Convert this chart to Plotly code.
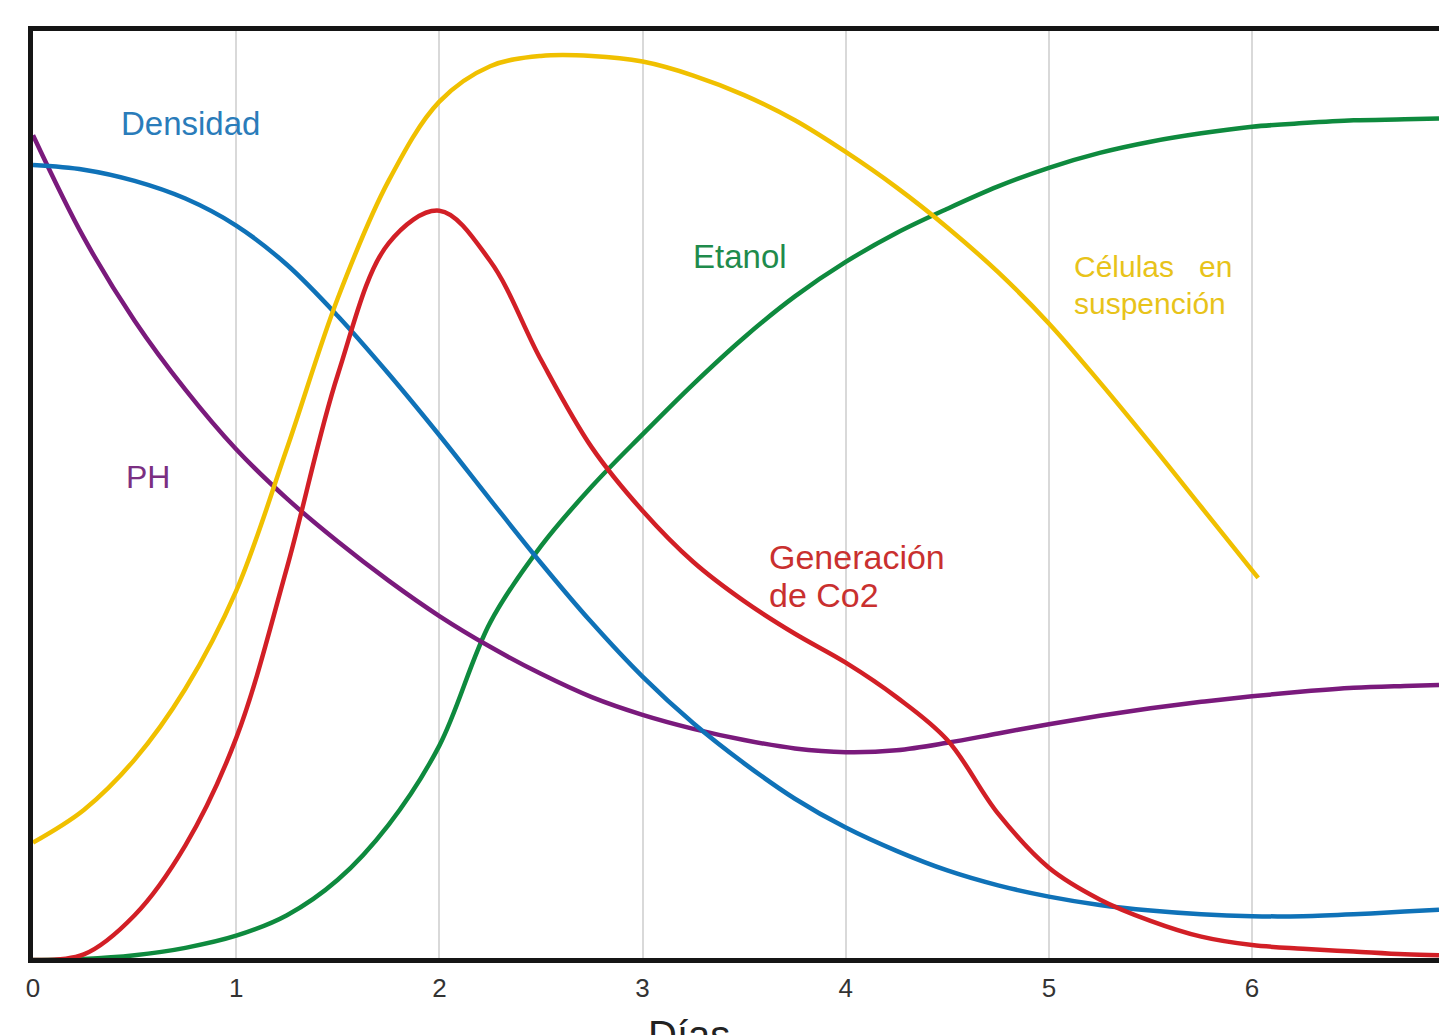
import plotly.graph_objects as go

# ---- data (x in días, y on a relative 0-100 scale) ----
days = [0, 0.25, 0.5, 0.75, 1.0, 1.25, 1.5, 1.75, 2.0, 2.25, 2.5, 2.75, 3.0, 3.25, 3.5,
        3.75, 4.0, 4.25, 4.5, 4.75, 5.0, 5.25, 5.5, 5.75, 6.0, 6.25, 6.5, 6.75, 6.92]

densidad = [85.3, 84.8, 83.6, 81.7, 78.8, 74.6, 69.1, 62.9, 56.3, 49.4, 42.6, 36.2, 30.4, 25.4, 21.1,
            17.3, 14.2, 11.7, 9.6, 8.0, 6.8, 5.9, 5.3, 4.9, 4.7, 4.7, 4.9, 5.2, 5.4]

ph = [88.5, 77.5, 68.6, 61.2, 54.8, 49.5, 44.9, 40.7, 36.9, 33.6, 30.7, 28.2, 26.3, 24.8, 23.6,
      22.7, 22.3, 22.5, 23.3, 24.3, 25.3, 26.2, 27.0, 27.7, 28.3, 28.8, 29.2, 29.4, 29.5]

cel_days = [0, 0.25, 0.5, 0.75, 1.0, 1.25, 1.5, 1.75, 2.0, 2.25, 2.5, 2.75, 3.0, 3.25, 3.5,
            3.75, 4.0, 4.25, 4.5, 4.75, 5.0, 5.25, 5.5, 5.75, 6.0, 6.03]
celulas = [12.6, 16.1, 21.5, 29.1, 39.6, 54.9, 71.0, 83.6, 92.1, 95.9, 97.0, 97.0, 96.4, 94.9, 92.8,
           90.1, 86.7, 82.9, 78.6, 73.8, 68.3, 62.0, 55.4, 48.6, 41.8, 41.0]

co2 = [0, 0.6, 4.8, 12.3, 23.8, 42.1, 62.8, 76.9, 80.4, 75.0, 64.4, 55.0, 48.2, 42.7, 38.5,
       35.0, 31.9, 28.2, 23.6, 15.7, 9.9, 6.5, 4.2, 2.5, 1.6, 1.2, 0.9, 0.6, 0.5]

etanol = [0, 0.1, 0.5, 1.3, 2.6, 4.8, 8.6, 14.5, 23.0, 36.2, 44.4, 50.8, 56.4, 61.8, 66.8,
          71.2, 74.9, 78.0, 80.6, 83.0, 85.0, 86.6, 87.8, 88.7, 89.4, 89.8, 90.1, 90.2, 90.3]

tick_vals = [0, 1, 2, 3, 4, 5, 6]
tick_text = ["0", "1", "2", "3", "4", "5", "6"]

FONT = "Liberation Sans, Arial, Helvetica, sans-serif"

series = [
    (days, etanol, "#0e8a3e"),
    (days, ph, "#7a1a7c"),
    (days, densidad, "#0f72b8"),
    (cel_days, celulas, "#f0c000"),
    (days, co2, "#d21f26"),
]

fig = go.Figure()
for xs, ys, col in series:
    fig.add_trace(go.Scatter(x=xs, y=ys, mode="lines",
                             line=dict(color=col, width=4.5, shape="spline", smoothing=1.0),
                             showlegend=False, hoverinfo="skip"))

labels = [
    dict(x=0.777, y=89.8, text="Densidad", color="#2a7cba", size=33, xanchor="center"),
    dict(x=3.478, y=75.5, text="Etanol", color="#1f8b4c", size=33, xanchor="center"),
    dict(x=0.566, y=51.8, text="PH", color="#7b2f82", size=32, xanchor="center"),
    dict(x=3.615, y=43.2, text="Generación", color="#c9302f", size=34, xanchor="left"),
    dict(x=3.615, y=39.2, text="de Co2", color="#c9302f", size=34, xanchor="left"),
    dict(x=5.112, y=74.4, text="Células\u00a0\u00a0\u00a0en", color="#e8c31a", size=30, xanchor="left"),
    dict(x=5.112, y=70.4, text="suspención", color="#e8c31a", size=30, xanchor="left"),
]
for lb in labels:
    fig.add_annotation(x=lb["x"], y=lb["y"], text=lb["text"], showarrow=False,
                       xanchor=lb["xanchor"], yanchor="middle", align="left",
                       font=dict(family=FONT, size=lb["size"], color=lb["color"]))

fig.add_annotation(x=3.23, xref="x", y=-0.083, yref="paper", text="Días", showarrow=False,
                   xanchor="center", yanchor="middle",
                   font=dict(family=FONT, size=40, color="#222222"))

fig.update_layout(
    width=1439, height=1035,
    margin=dict(l=33, r=0, t=31, b=77),
    paper_bgcolor="white", plot_bgcolor="white",
    xaxis=dict(range=[0, 6.92], tickvals=tick_vals, ticktext=tick_text,
               showgrid=True, gridcolor="#d9d9d9", gridwidth=1.5,
               showline=True, linecolor="#151515", linewidth=5, mirror=True,
               ticks="", zeroline=False, ticklabelstandoff=3,
               tickfont=dict(family=FONT, size=26, color="#333333")),
    yaxis=dict(range=[0.21, 99.68], showgrid=False, showticklabels=False, ticks="",
               showline=True, linecolor="#151515", linewidth=5, zeroline=False),
)

fig.write_html(
    "out.html",
    config={"displayModeBar": False},
    post_script="document.body.style.margin='0';"
                "document.documentElement.style.overflow='hidden';"
                "document.body.style.overflow='hidden';",
)
